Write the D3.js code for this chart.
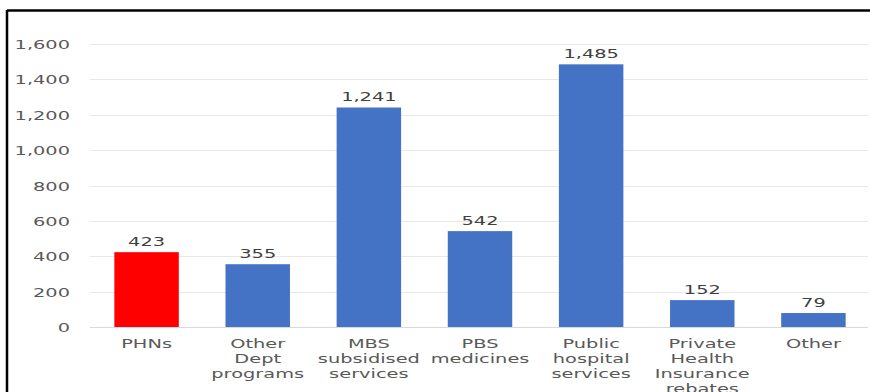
<!DOCTYPE html>
<html>
<head>
<meta charset="utf-8">
<script src="https://cdn.jsdelivr.net/npm/d3@7"></script>
<style>
  body { margin: 0; background: #fff; }
  svg text { font-family: "DejaVu Sans", Verdana, sans-serif; fill: #595959; }
</style>
</head>
<body>
<div id="chart"></div>
<script>
// chart data
const categories = [
    ["PHNs"],
    ["Other", "Dept", "programs"],
    ["MBS", "subsidised", "services"],
    ["PBS", "medicines"],
    ["Public", "hospital", "services"],
    ["Private", "Health", "Insurance", "rebates"],
    ["Other"]
];
const values = [423, 355, 1241, 542, 1485, 152, 79];
const barColors = ["#ff0000", "#4472c4", "#4472c4", "#4472c4", "#4472c4", "#4472c4", "#4472c4"];
const yTicks = [0, 200, 400, 600, 800, 1000, 1200, 1400, 1600];

const width = 870;
const height = 392;
const margin = { top: 44, right: 0, bottom: 65, left: 91 };
const stretch = 1.55; // the source text is drawn wide

const svg = d3.select("#chart")
    .append("svg")
    .attr("width", width)
    .attr("height", height);

// frame (only top and left edges are visible)
svg.append("line")
    .attr("x1", 7).attr("x2", width).attr("y1", 10.5).attr("y2", 10.5)
    .style("stroke", "#000").style("stroke-width", "2.5px");
svg.append("line")
    .attr("x1", 7).attr("x2", 7).attr("y1", 10).attr("y2", height)
    .style("stroke", "#000").style("stroke-width", "2.5px");

const x = d3.scaleBand()
    .domain(d3.range(categories.length))
    .range([margin.left, width - 1])
    .paddingInner(0.42)
    .paddingOuter(0.21);

const y = d3.scaleLinear()
    .domain([0, 1600])
    .range([height - margin.bottom, margin.top]);

const place = (px, py) => `translate(${px},${py}) scale(${stretch},1)`;

// gridlines
svg.append("g")
    .selectAll("line")
    .data(yTicks)
    .enter()
    .append("line")
    .attr("x1", margin.left - 1)
    .attr("x2", width - 2)
    .attr("y1", d => Math.round(y(d)) + 0.5)
    .attr("y2", d => Math.round(y(d)) + 0.5)
    .style("stroke", d => d === 0 ? "#d9d9d9" : "#e8e8e8")
    .style("stroke-width", "1px");

// y tick labels
svg.append("g")
    .selectAll("text")
    .data(yTicks)
    .enter()
    .append("text")
    .attr("transform", d => place(70, y(d) + 5))
    .style("text-anchor", "end")
    .style("font-size", "12.5px")
    .text(d => d3.format(",")(d));

// bars
svg.append("g")
    .selectAll("rect")
    .data(values)
    .enter()
    .append("rect")
    .attr("x", (d, i) => x(i))
    .attr("y", d => y(d))
    .attr("width", x.bandwidth())
    .attr("height", d => y(0) - y(d))
    .style("fill", (d, i) => barColors[i]);

// value labels
svg.append("g")
    .selectAll("text")
    .data(values)
    .enter()
    .append("text")
    .attr("transform", (d, i) => place(x(i) + x.bandwidth() / 2, y(d) - 6))
    .style("text-anchor", "middle")
    .style("font-size", "12.5px")
    .style("fill", "#404040")
    .text(d => d3.format(",")(d));

// category labels
const catLabels = svg.append("g")
    .selectAll("text")
    .data(categories)
    .enter()
    .append("text")
    .attr("transform", (d, i) => place(x(i) + x.bandwidth() / 2, y(0) + 21))
    .style("text-anchor", "middle")
    .style("font-size", "12.5px");

catLabels.selectAll("tspan")
    .data(d => d)
    .enter()
    .append("tspan")
    .attr("x", 0)
    .attr("dy", (d, i) => i === 0 ? 0 : 15)
    .text(d => d);
</script>
</body>
</html>
